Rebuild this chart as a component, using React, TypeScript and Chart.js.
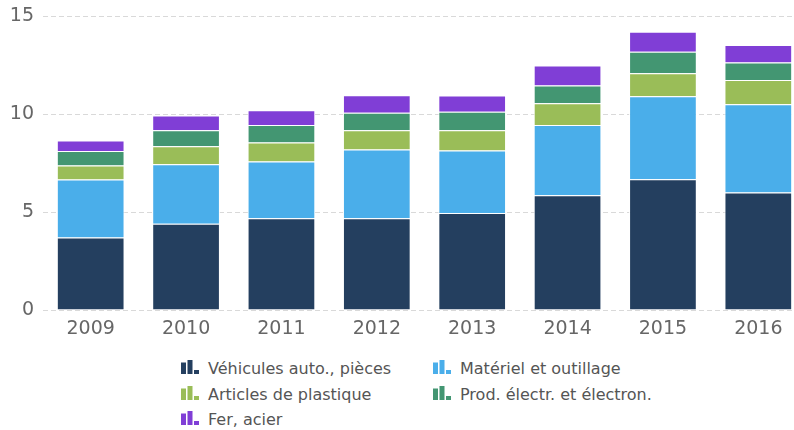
import React, { useEffect, useRef } from "react";
import { Chart, registerables } from "chart.js";

Chart.register(...registerables);

const years = ["2009", "2010", "2011", "2012", "2013", "2014", "2015", "2016"];
const vehicules = [3.7, 4.4, 4.68, 4.68, 4.95, 5.85, 6.67, 5.99];
const materiel = [2.96, 3.04, 2.9, 3.51, 3.19, 3.59, 4.24, 4.51];
const plastique = [0.71, 0.91, 0.97, 0.98, 1.03, 1.11, 1.17, 1.24];
const electr = [0.74, 0.82, 0.89, 0.9, 0.95, 0.9, 1.09, 0.89];
const fer = [0.54, 0.75, 0.75, 0.89, 0.82, 1.03, 1.03, 0.89];
const yMin = 0;
const yMax = 15;
const yStep = 5;

const seriesNames = [
  "Véhicules auto., pièces",
  "Matériel et outillage",
  "Articles de plastique",
  "Prod. électr. et électron.",
  "Fer, acier",
];
const seriesColors = ["#243f5f", "#4aaeea", "#9abd58", "#439672", "#803ed6"];
const seriesData = [vehicules, materiel, plastique, electr, fer];

const FONT = "'DejaVu Sans', sans-serif";

function LegendIcon({ color }: { color: string }) {
  return (
    <svg width={18} height={14} style={{ position: "absolute", left: 0, top: 4 }}>
      <rect x={0} y={2.5} width={5} height={11.5} fill={color} />
      <rect x={6.5} y={0} width={5} height={14} fill={color} />
      <rect x={13} y={10} width={5} height={4} fill={color} />
    </svg>
  );
}

export default function App() {
  const ref = useRef<HTMLCanvasElement | null>(null);

  useEffect(() => {
    if (!ref.current) return;
    const chart = new Chart(ref.current, {
      type: "bar",
      data: {
        labels: years,
        datasets: seriesData.map((d, i) => ({
          label: seriesNames[i],
          data: d,
          backgroundColor: seriesColors[i],
          borderColor: "#ffffff",
          borderWidth: 1,
          barPercentage: 0.71,
          categoryPercentage: 1,
        })),
      },
      options: {
        responsive: false,
        animation: false,
        layout: { padding: { top: 16, left: 0, right: 0, bottom: 0 } },
        plugins: { legend: { display: false }, tooltip: { enabled: false } },
        scales: {
          x: {
            stacked: true,
            grid: { display: false, drawTicks: false },
            border: { display: false },
            ticks: {
              padding: 8,
              color: "#666666",
              font: { family: FONT, size: 19 },
              maxRotation: 0,
            },
            afterFit: (scale: any) => {
              scale.height = 30;
              scale.paddingLeft = 0;
              scale.paddingRight = 0;
            },
          },
          y: {
            stacked: true,
            min: yMin,
            max: yMax,
            grid: { color: "#d9d9d9", drawTicks: false, lineWidth: 1 },
            border: { display: false, dash: [5, 3] },
            ticks: {
              stepSize: yStep,
              padding: 9,
              color: "#666666",
              font: { family: FONT, size: 19 },
            },
            afterFit: (scale: any) => {
              scale.width = 43;
              scale.paddingTop = 0;
              scale.paddingBottom = 0;
            },
          },
        },
      },
    });
    return () => chart.destroy();
  }, []);

  const cols = [181, 433];
  const rows = [356, 381.5, 407];

  return (
    <div
      style={{
        position: "absolute",
        left: 0,
        top: 0,
        width: 794,
        height: 430,
        overflow: "hidden",
        background: "#ffffff",
        fontFamily: FONT,
      }}
    >
      <canvas
        ref={ref}
        width={806}
        height={340}
        style={{ position: "absolute", left: 0, top: 0, display: "block" }}
      />
      {seriesNames.map((name, i) => (
        <div
          key={name}
          style={{
            position: "absolute",
            left: cols[i % 2],
            top: rows[Math.floor(i / 2)],
            height: 25,
            lineHeight: "25.5px",
            fontSize: 16,
            color: "#555555",
            whiteSpace: "nowrap",
          }}
        >
          <LegendIcon color={seriesColors[i]} />
          <span style={{ marginLeft: 27 }}>{name}</span>
        </div>
      ))}
    </div>
  );
}
